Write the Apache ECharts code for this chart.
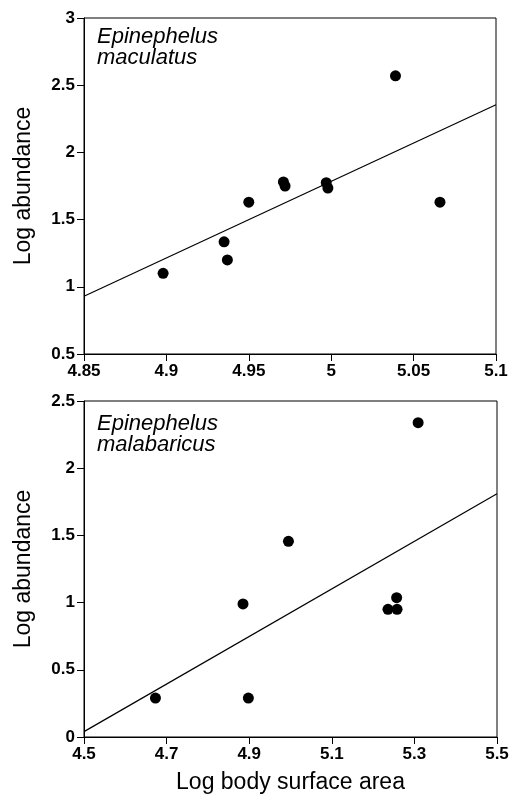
<!DOCTYPE html>
<html>
<head>
<meta charset="utf-8">
<script src="https://cdn.jsdelivr.net/npm/echarts@6/dist/echarts.min.js"></script>
<style>
  html, body { margin: 0; padding: 0; background: #fff; }
  #main { width: 513px; height: 800px; }
</style>
</head>
<body>
<div id="main"></div>
<script>
// top panel: Epinephelus maculatus
var macX = [4.898, 4.935, 4.937, 4.950, 4.971, 4.972, 4.997, 4.998, 5.039, 5.066];
var macY = [1.10, 1.335, 1.20, 1.63, 1.78, 1.75, 1.775, 1.735, 2.57, 1.63];
var macFitX = [4.85, 5.1];
var macFitY = [0.93, 2.355];

// bottom panel: Epinephelus malabaricus
var malX = [4.673, 4.885, 4.898, 4.995, 5.236, 5.258, 5.257, 5.309];
var malY = [0.29, 0.99, 0.29, 1.456, 0.95, 0.95, 1.037, 2.339];
var malFitX = [4.5, 5.5];
var malFitY = [0.04, 1.81];

var species = ['Epinephelus\nmaculatus', 'Epinephelus\nmalabaricus'];
var yName = 'Log abundance';
var xName = 'Log body surface area';

function pairs(xs, ys) {
    var out = [];
    for (var i = 0; i < xs.length; i++) out.push([xs[i], ys[i]]);
    return out;
}

window.onload = function () {
    var myChart = echarts.init(document.getElementById('main'));
    var font = '"Liberation Sans", Arial, Helvetica, sans-serif';
    var black = '#000';

    var tickLabel = {
        color: black,
        fontFamily: font,
        fontSize: 17,
        fontWeight: 'bold',
        margin: 9
    };
    function fmt(d) {
        return function (v) { return String(+v.toFixed(d)); };
    }
    var axisCommon = {
        type: 'value',
        axisLine: { show: true, onZero: false, lineStyle: { color: black, width: 1 } },
        axisTick: { show: true, inside: false, length: 7, lineStyle: { color: black, width: 1 } },
        splitLine: { show: false }
    };
    var nameStyle = { color: black, fontFamily: font, fontSize: 23 };
    var spStyle = { fontFamily: font, fontStyle: 'italic', fontWeight: 'normal', fontSize: 22, lineHeight: 21, color: black };

    var option = {
        backgroundColor: '#fff',
        animation: false,
        title: [
            { text: species[0], left: 97, top: 26, padding: 0, textStyle: spStyle },
            { text: species[1], left: 97, top: 413, padding: 0, textStyle: spStyle }
        ],
        grid: [
            { left: 84, top: 18, width: 412, height: 336, show: true, borderColor: black, borderWidth: 1, backgroundColor: 'transparent' },
            { left: 84, top: 401, width: 413, height: 336, show: true, borderColor: black, borderWidth: 1, backgroundColor: 'transparent' }
        ],
        xAxis: [
            echarts.util.merge({
                gridIndex: 0, min: 4.85, max: 5.1, interval: 0.05,
                axisLabel: echarts.util.extend({ formatter: fmt(2), margin: 11 }, tickLabel)
            }, axisCommon),
            echarts.util.merge({
                gridIndex: 1, min: 4.5, max: 5.5, interval: 0.2,
                name: xName, nameLocation: 'middle', nameGap: 34, nameTextStyle: nameStyle,
                axisLabel: echarts.util.extend({ formatter: fmt(1), margin: 11 }, tickLabel)
            }, axisCommon)
        ],
        yAxis: [
            echarts.util.merge({
                gridIndex: 0, min: 0.5, max: 3, interval: 0.5,
                name: yName, nameLocation: 'middle', nameGap: 49, nameTextStyle: nameStyle,
                axisLabel: echarts.util.extend({ formatter: fmt(1) }, tickLabel)
            }, axisCommon),
            echarts.util.merge({
                gridIndex: 1, min: 0, max: 2.5, interval: 0.5,
                name: yName, nameLocation: 'middle', nameGap: 49, nameTextStyle: nameStyle,
                axisLabel: echarts.util.extend({ formatter: fmt(1) }, tickLabel)
            }, axisCommon)
        ],
        series: [
            {
                type: 'line', xAxisIndex: 0, yAxisIndex: 0, silent: true,
                symbol: 'none', data: pairs(macFitX, macFitY),
                lineStyle: { color: black, width: 1.2 }
            },
            {
                type: 'scatter', xAxisIndex: 0, yAxisIndex: 0, silent: true,
                symbolSize: 11, data: pairs(macX, macY),
                itemStyle: { color: black, opacity: 1 }
            },
            {
                type: 'line', xAxisIndex: 1, yAxisIndex: 1, silent: true,
                symbol: 'none', data: pairs(malFitX, malFitY),
                lineStyle: { color: black, width: 1.2 }
            },
            {
                type: 'scatter', xAxisIndex: 1, yAxisIndex: 1, silent: true,
                symbolSize: 11, data: pairs(malX, malY),
                itemStyle: { color: black, opacity: 1 }
            }
        ]
    };
    myChart.setOption(option);
};
</script>
</body>
</html>
